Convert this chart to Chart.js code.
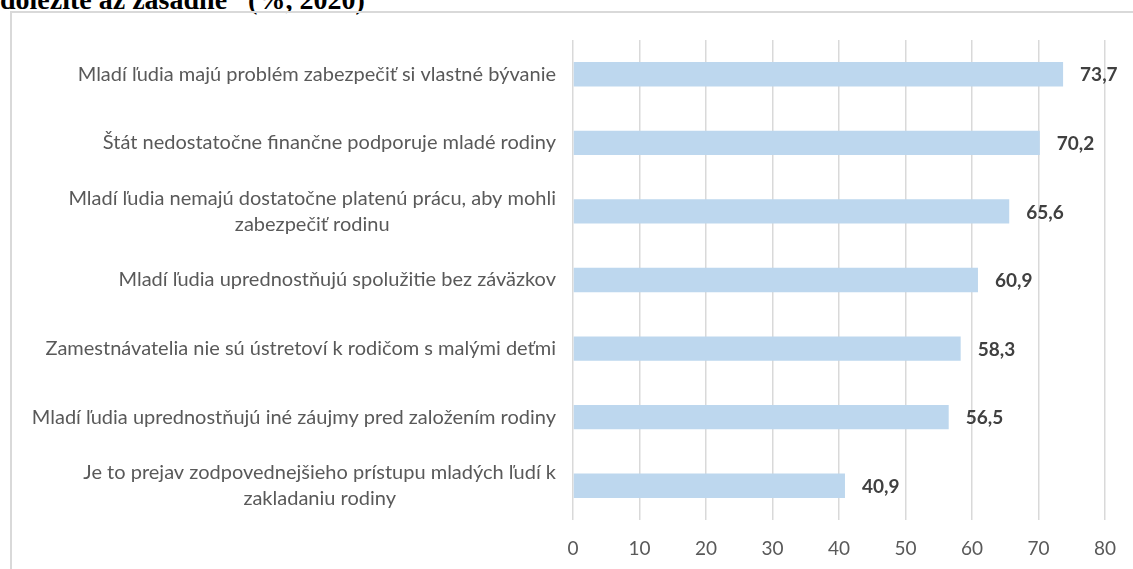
<!DOCTYPE html>
<html>
<head>
<meta charset="utf-8">
<script src="https://cdn.jsdelivr.net/npm/chart.js@4.4.1/dist/chart.umd.min.js"></script>
<style>
  html, body { margin: 0; padding: 0; background: #fff; overflow: hidden; }
  body { width: 1133px; height: 569px; position: relative; }
  #title {
    position: absolute; left: 0; top: -18px; white-space: pre;
    font: bold 28px 'Liberation Serif', 'Times New Roman', serif; line-height: 36px; color: #000;
  }
  #frame {
    position: absolute; left: 10px; top: 11px; width: 1200px; height: 700px;
    border-left: 2px solid #d9d9d9; border-top: 2px solid #d9d9d9;
  }
  #chart { position: absolute; left: 0; top: 0; }
</style>
</head>
<body>
<div id="title">dôležité až zásadné“ (%, 2020)</div>
<div id="frame"></div>
<canvas id="chart" width="1133" height="569"></canvas>
<script>
// reasons, top to bottom
const categories = [
  'Mladí ľudia majú problém zabezpečiť si vlastné bývanie',
  'Štát nedostatočne finančne podporuje mladé rodiny',
  ['Mladí ľudia nemajú dostatočne platenú prácu, aby mohli', 'zabezpečiť rodinu'],
  'Mladí ľudia uprednostňujú spolužitie bez záväzkov',
  'Zamestnávatelia nie sú ústretoví k rodičom s malými deťmi',
  'Mladí ľudia uprednostňujú iné záujmy pred založením rodiny',
  ['Je to prejav zodpovednejšieho prístupu mladých ľudí k', 'zakladaniu rodiny'],
];
const values = [73.7, 70.2, 65.6, 60.9, 58.3, 56.5, 40.9];
const xTicks = [0, 10, 20, 30, 40, 50, 60, 70, 80];

const FONT = "Lato, 'Open Sans', sans-serif";
const fmt = (v) => v.toFixed(1).replace('.', ',');

// category labels: right aligned block, wrapped lines centred like Excel does
const catLabels = {
  id: 'catLabels',
  afterDraw(chart) {
    const scale = chart.scales.y;
    const ctx = chart.ctx;
    const lh = 26;
    ctx.save();
    ctx.font = `20px ${FONT}`;
    ctx.fillStyle = '#595959';
    ctx.textAlign = 'center';
    ctx.textBaseline = 'middle';
    categories.forEach((lab, i) => {
      const lines = Array.isArray(lab) ? lab : [lab];
      const widest = Math.max(...lines.map((l) => ctx.measureText(l).width));
      const cx = scale.right - 17 - widest / 2;
      const y0 = scale.getPixelForTick(i) - ((lines.length - 1) * lh) / 2;
      lines.forEach((l, j) => ctx.fillText(l, cx, y0 + j * lh));
    });
    ctx.restore();
  },
};

const valueLabels = {
  id: 'valueLabels',
  afterDatasetsDraw(chart) {
    const ctx = chart.ctx;
    const meta = chart.getDatasetMeta(0);
    ctx.save();
    ctx.font = `bold 19px ${FONT}`;
    ctx.fillStyle = '#404040';
    ctx.textAlign = 'left';
    ctx.textBaseline = 'middle';
    meta.data.forEach((bar, i) => ctx.fillText(fmt(values[i]), bar.x + 17, bar.y + 1));
    ctx.restore();
  },
};

new Chart(document.getElementById('chart'), {
  type: 'bar',
  data: {
    labels: categories,
    datasets: [
      {
        data: values,
        backgroundColor: '#BDD7EE',
        borderWidth: 0,
        categoryPercentage: 1,
        barPercentage: 0.355,
      },
    ],
  },
  options: {
    indexAxis: 'y',
    responsive: false,
    animation: false,
    layout: { padding: { top: 40, right: 26, bottom: 0, left: 0 } },
    plugins: { legend: { display: false }, tooltip: { enabled: false } },
    scales: {
      x: {
        min: 0,
        max: 80,
        afterBuildTicks: (s) => { s.ticks = xTicks.map((v) => ({ value: v })); },
        afterFit: (s) => { s.height = 49; },
        grid: { color: '#d9d9d9', lineWidth: 1.5, drawTicks: false },
        border: { display: false },
        ticks: { padding: 17, color: '#595959', font: { family: FONT, size: 19 } },
      },
      y: {
        afterFit: (s) => { s.width = 573; },
        grid: { display: false, drawTicks: false },
        border: { display: false },
        ticks: { color: 'rgba(0,0,0,0)', font: { family: FONT, size: 20 } },
      },
    },
  },
  plugins: [catLabels, valueLabels],
});
</script>
</body>
</html>
